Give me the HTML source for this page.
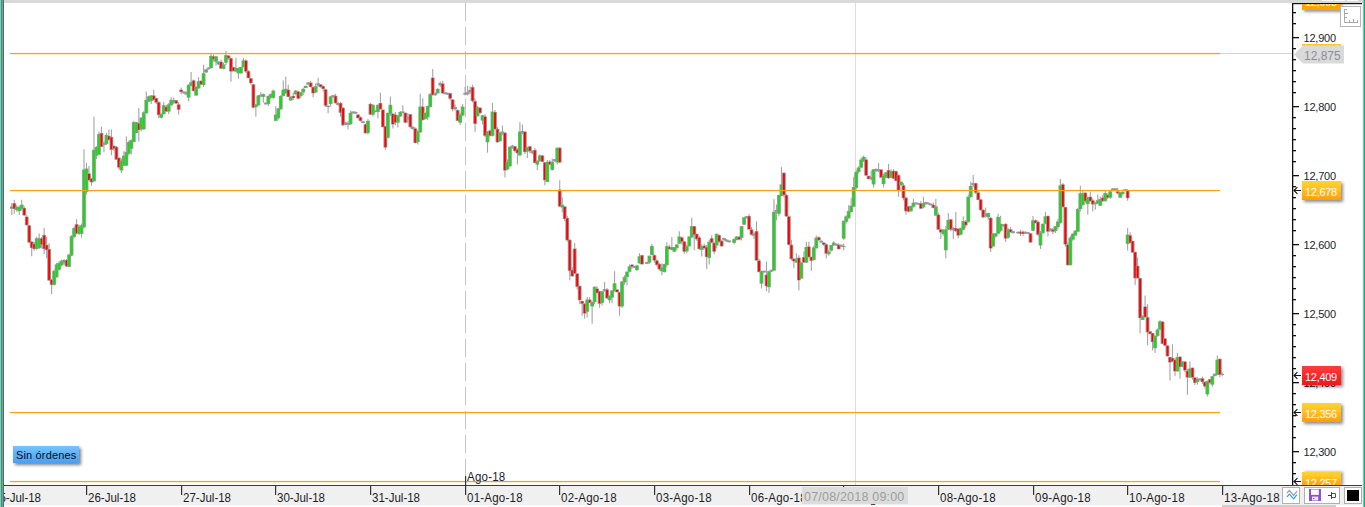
<!DOCTYPE html>
<html><head><meta charset="utf-8"><title>Chart</title>
<style>
html,body{margin:0;padding:0;background:#fff;}
body{width:1365px;height:507px;position:relative;overflow:hidden;font-family:"Liberation Sans",sans-serif;}
.abs{position:absolute;}
#topbar{left:0;top:0;width:1365px;height:3px;background:#d9d9d9;}
#lb0{left:0;top:0;width:1px;height:507px;background:#b4b4b4;}
#lb1{left:1px;top:0;width:1px;height:507px;background:#10aa84;}
#lb1b{left:2px;top:0;width:1px;height:507px;background:#62ab98;}
#lb2{left:3px;top:0;width:1px;height:507px;background:#646464;}
#lb3{left:4px;top:3px;width:1px;height:504px;background:#e4e4e4;}
#rb0{left:1362px;top:3px;width:1px;height:504px;background:#ececec;}
#rb1{left:1363px;top:0;width:2px;height:507px;background:linear-gradient(90deg,#7cc8b4 0,#7cc8b4 50%,#10aa84 50%);}
#botbg{left:4px;top:486px;width:1358px;height:19px;background:#f0f0f0;}
#botline{left:4px;top:485px;width:1358px;height:1.3px;background:#3c3c3c;}
#botstrip{left:4px;top:505px;width:1358px;height:2px;background:#fbfbfb;}
#scroll{left:1222px;top:505px;width:114px;height:2px;background:#cdcdcd;}
svg{position:absolute;left:0;top:0;}
.pl{position:absolute;left:1303.5px;font-size:11px;line-height:13px;letter-spacing:-0.2px;color:#1c1c28;white-space:nowrap;}
.dl{position:absolute;top:491px;font-size:12px;line-height:14px;color:#1c1c28;white-space:nowrap;transform:scaleX(0.96);transform-origin:0 0;}
.dl.ago{letter-spacing:0.23px;}
.tag{position:absolute;left:1302px;width:39px;height:19px;box-sizing:border-box;color:#fff;font-size:11px;line-height:22px;letter-spacing:-0.3px;padding-left:3px;overflow:hidden;box-shadow:2px 2px 3px rgba(0,0,0,0.45);white-space:nowrap;}
.tag.o{background:linear-gradient(#ffd42e,#ffc020 45%,#ff9d0c);}
.tag.r{background:linear-gradient(#ff3c3c,#f01818);}
#sin{left:13px;top:446px;width:66px;height:17px;background:linear-gradient(#74c4ff,#4c9ff0);box-shadow:2px 2px 3px rgba(0,0,0,0.5);font-size:11px;line-height:19px;letter-spacing:0.15px;color:#0a0a1e;padding-left:3px;overflow:hidden;box-sizing:border-box;white-space:nowrap;}
#ago{left:467px;top:470px;font-size:12px;line-height:14px;letter-spacing:0.23px;color:#1c1c28;transform:scaleX(0.96);transform-origin:0 0;}
#tip{left:802px;top:487px;width:106px;height:17px;background:#dcdcdc;color:#9c9c9c;font-size:12.5px;line-height:21px;letter-spacing:0.2px;overflow:hidden;padding-left:2px;box-sizing:border-box;white-space:nowrap;}
.btn{position:absolute;top:487px;height:17px;background:#fff;border:1px solid #b0b0b0;box-sizing:border-box;}
#rul{left:1340px;top:6px;width:21px;height:21px;background:#fff;border:1px solid #b4b4b4;box-sizing:border-box;}
</style></head><body>
<div class="abs" id="topbar"></div>
<div class="abs" id="botbg"></div>
<div class="abs" id="botstrip"></div>
<div class="abs" id="scroll"></div>
<svg width="1365" height="507" viewBox="0 0 1365 507" shape-rendering="auto">
<rect x="465" y="3" width="1" height="18" fill="#c4c4c4"/><rect x="465" y="27" width="1" height="18" fill="#c4c4c4"/><rect x="465" y="51" width="1" height="18" fill="#c4c4c4"/><rect x="465" y="75" width="1" height="18" fill="#c4c4c4"/><rect x="465" y="99" width="1" height="18" fill="#c4c4c4"/><rect x="465" y="123" width="1" height="18" fill="#c4c4c4"/><rect x="465" y="147" width="1" height="18" fill="#c4c4c4"/><rect x="465" y="171" width="1" height="18" fill="#c4c4c4"/><rect x="465" y="195" width="1" height="18" fill="#c4c4c4"/><rect x="465" y="219" width="1" height="18" fill="#c4c4c4"/><rect x="465" y="243" width="1" height="18" fill="#c4c4c4"/><rect x="465" y="267" width="1" height="18" fill="#c4c4c4"/><rect x="465" y="291" width="1" height="18" fill="#c4c4c4"/><rect x="465" y="315" width="1" height="18" fill="#c4c4c4"/><rect x="465" y="339" width="1" height="18" fill="#c4c4c4"/><rect x="465" y="363" width="1" height="18" fill="#c4c4c4"/><rect x="465" y="387" width="1" height="18" fill="#c4c4c4"/><rect x="465" y="411" width="1" height="18" fill="#c4c4c4"/><rect x="465" y="435" width="1" height="18" fill="#c4c4c4"/><rect x="465" y="459" width="1" height="17" fill="#c4c4c4"/><rect x="855" y="3" width="1" height="483" fill="#dcdcdc"/><rect x="1220" y="53" width="72" height="1" fill="#d4d4d4"/><path d="M11.78 203.02V214.95M14.27 199.76V213.86M16.76 205.18V211.69M19.25 205.62V214.95M21.74 199.76V210.61M24.23 206.27V216.03M26.72 214.95V225.79M29.21 224.71V243.15M31.7 240.98V256.16M34.19 242.06V250.74M36.68 236.64V249.65M39.17 233.38V249M41.67 236.64V248.13M44.16 227.96V253.99M46.65 236.64V258.33M49.14 243.15V281.11M51.63 278.94V294.12M54.12 269.18V285.44M56.61 262.67V277.85M59.1 261.58V270.69M61.59 259.41V266.36M64.08 258.98V264.84M66.57 258.98V267.22M69.06 253.99V267.22M71.56 235.12V256.16M74.05 226.44V238.16M76.54 219.28V234.47M79.03 224.71V235.12M81.52 223.62V237.72M84.01 149.31V228.21M86.5 163.12V194.67M88.99 166.07V180.87M91.48 177.91V185.8M93.97 116.77V181.85M96.46 146.35V159.17M98.95 131.56V154.85M101.44 126.63V147.34M103.94 141.42V152.27M106.43 132.76V145.04M108.92 129.59V140.43M111.41 129.59V155.23M113.9 145.05V150.67M116.39 146.04V159.82M118.88 157.18V169.14M121.37 158.56V172.98M123.86 151.28V166.07M126.35 136.49V166.07M128.84 140.52V155.19M131.33 139.45V154.24M133.83 120.82V142.25M136.32 122.08V133.22M138.81 107.89V141.42M141.3 117.23V131.14M143.79 111.05V129.7M146.28 91.51V113.71M148.77 95.84V102.05M151.26 95.31V103.93M153.75 89.73V100.39M156.24 97.81V104.11M158.73 101.25V118.15M161.22 112.99V118.62M163.71 102.09V114.56M166.21 105.13V111.75M168.7 102.88V114.07M171.19 97.19V105.72M173.68 97.8V104.06M176.17 99.94V103.71M178.66 102.06V114.6M181.15 87.6V94.17M183.64 91.21V93.59M186.13 91.21V95.36M188.62 84.32V101.28M191.11 71.97V86.18M193.6 79.52V91.23M196.09 86.44V95.78M198.59 77.3V88.85M201.08 80.61V85.37M203.57 64.87V87.07M206.06 69.22V72.92M208.55 67.23V69.61M211.04 53.85V68.42M213.53 54.6V61.52M216.02 55.63V65.58M218.51 61.33V64.74M221 59.66V68.74M223.49 62.48V69.14M225.98 51.01V65.17M228.48 55.35V60.03M230.97 58.04V81.74M233.46 66.92V71.54M235.95 57.76V71.97M238.44 67.53V78.72M240.93 66.92V73.66M243.42 57.76V67.53M245.91 59.21V73.09M248.4 70.1V78.35M250.89 77.89V84.48M253.38 84.13V108.56M255.87 103.94V116.73M258.36 95V105.63M260.86 91.97V97.3M263.35 93.42V102.8M265.84 102.33V104.7M268.33 95.5V105.93M270.82 93.34V99.12M273.31 89.42V98.64M275.8 106.18V121.28M278.29 108.05V119.4M280.78 95.13V109.62M283.27 80.43V96.41M285.76 76.87V93.75M288.25 84.87V97.3M290.74 96.15V100.64M293.24 92.56V100.07M295.73 89.79V95.13M298.22 90.69V99.52M300.71 91.89V98.09M303.2 87.83V94.94M305.69 85.64V88.16M308.18 81.9V85.17M310.67 80.72V87.33M313.16 86.64V97.3M315.65 83.57V92.92M318.14 77.76V86.64M320.63 84.26V87.53M323.12 85.27V91.38M325.62 88.83V106.97M328.11 105.29V113.29M330.6 95.99V106.48M333.09 94.87V97.6M335.58 93.63V103.79M338.07 102.33V105.59M340.56 101.64V116.84M343.05 107.01V125.77M345.54 121.87V125.13M348.03 121.28V129.27M350.52 110.41V124.56M353.01 111.21V113.59M355.51 111.57V113.94M358 114.01V118.37M360.49 116.36V121.42M362.98 120.98V123.36M365.47 123.6V133.58M367.96 118.76V134.65M370.45 103.01V114.85M372.94 104.3V116.43M375.43 109.97V112.34M377.92 104.4V118.61M380.41 92.86V109.73M382.9 109.48V127.47M385.39 125.91V149.7M387.89 112.63V138.44M390.38 96.41V116.11M392.87 113.29V128.38M395.36 112.1V125.19M397.85 115.06V127.5M400.34 110.9V116.8M402.83 105.29V113.29M405.32 112.47V123.49M407.81 112.99V123.36M410.3 114V128.37M412.79 126.31V129.57M415.28 127.44V143.36M417.78 130.14V144.6M420.27 93.75V132.82M422.76 98.19V120.74M425.25 112.64V119.3M427.74 105.56V119.9M430.23 93.12V107.6M432.72 68.88V95.52M435.21 92.56V95.82M437.7 88.17V93.46M440.19 81.37V86.94M442.68 80.81V93.68M445.17 92.03V94.4M447.66 92.56V94.94M450.16 92.64V100.39M452.65 99.35V111.36M455.14 104.4V110.62M457.63 109.19V121.07M460.12 112.71V125.16M462.61 104.06V116.21M465.1 86.64V95.52M467.59 85.75V95.52M470.08 86.51V93.45M472.57 84.78V102.49M475.06 98.44V132.06M477.55 105.91V116.6M480.04 106.94V113.91M482.54 114.71V124.47M485.03 114.25V137.1M487.52 130.98V152.67M490.01 129.46V136.63M492.5 102.78V136.4M494.99 110.07V129.53M497.48 126.75V142.91M499.97 131.46V141.37M502.46 125.55V135.31M504.95 132.54V177.61M507.44 159.32V170.2M509.93 146.52V167.3M512.43 144.78V148.63M514.92 146.2V152.52M517.41 148.24V164.6M519.9 122.3V156.33M522.39 124.47V134.23M524.88 131.26V153.97M527.37 146.81V158.09M529.86 146.07V153.09M532.35 150.2V154.05M534.84 148.05V163.16M537.33 160.26V170.02M539.82 154.35V161.29M542.31 155.07V162.27M544.81 162V185.21M547.3 160.02V182.12M549.79 159.69V165.14M552.28 158.57V170.66M554.77 158.88V161.64M557.26 147.2V164.43M559.75 146.65V163.17M559.75 180.33V206.97M562.24 197.2V212.3M564.73 206.08V221.18M567.22 215.76V241.63M569.71 239.21V280.2M572.2 267.46V277.06M574.69 242.9V273.98M577.19 273.35V289.57M579.68 285.52V304.17M582.17 300.62V315.72M584.66 303.29V318.38M587.15 297.07V317.5M589.64 297.15V303.08M592.13 301.51V323.71M594.62 286.21V304.24M597.11 286.3V293.23M599.6 290.85V307.73M602.09 290.97V305.58M604.58 281.97V291.74M607.08 288.09V298.58M609.57 295.29V303.29M612.06 289.96V303.29M614.55 271.31V291.74M617.04 289.21V292.35M619.53 291.74V315.72M622.02 281.37V307.99M624.51 275.21V284.8M627 271.31V285.52M629.49 264.59V272.59M631.98 264.26V268.82M634.47 265.69V268.06M636.96 264.77V270.95M639.46 253.2V263.85M641.95 255.08V264.6M646.93 261.78V264.15M649.42 255.55V263.63M651.91 243.78V255.33M654.4 254.25V262.86M656.89 259.21V266.61M659.38 262.98V270.62M661.87 263.61V275.16M664.36 263.83V272.4M666.85 242.3V267.26M669.34 244.75V249.35M671.84 236.97V250.29M674.33 247.02V251.81M676.82 244.12V250.24M679.31 231.29V244.08M681.8 236.46V244.57M684.29 240.87V253.66M686.78 244.74V253.23M689.27 236.19V246.5M691.76 217.79V237.86M694.25 225.96V250.29M696.74 233.69V240.63M699.23 235.69V249.93M701.73 244.26V256.51M704.22 243.72V248.87M706.71 245.04V268.94M709.2 239.96V264.5M711.69 235.2V243.19M714.18 242.59V254.23M716.67 233.68V248.16M719.16 234.82V242.65M721.65 239.66V246.56M724.14 237.56V240.82M726.63 239.34V241.71M729.12 240.22V242.6M734.11 238.35V244.36M736.6 236.03V240.24M739.09 235.77V240.27M741.58 226.07V240.56M744.07 216.89V225.3M746.56 215.71V218.62M749.05 213.9V229.72M751.54 227.09V235.39M754.03 232.53V238.75M756.52 221.34V260.72M759.01 258.49V272.43M761.5 270.72V288.48M763.99 270.42V272.8M766.49 261.48V291.15M768.98 270.72V292.92M771.47 269.53V271.91M773.96 199.08V271.01M776.45 204.4V220.39M778.94 194.66V216.18M781.43 167.1V196.41M783.92 172.28V197.36M786.41 193.74V217.01M788.9 215.34V245.27M791.39 239.87V260.43M793.88 258.52V268.29M796.38 253.19V262.96M798.87 255.37V290.49M801.36 262.23V278.74M803.85 251.41V262.96M806.34 241.64V262.96M808.83 241.64V257.85M811.32 256.74V270.95M813.81 245.46V260.62M816.3 235.43V248.55M818.79 236.18V240.61M821.28 240.45V242.83M823.77 242.25V245.88M826.26 243.52V258.52M828.76 250.3V255.7M831.25 244.95V251.52M833.74 240.99V246.01M836.23 243.47V245.85M838.72 243.25V249.35M841.21 244.54V246.92M843.7 243.42V250.52M843.7 220.39V239.93M846.19 215.34V223.44M848.68 205.29V218.95M851.17 198.19V212.4M853.66 176.87V207.07M856.15 169.68V189.77M858.64 166.35V173.7M861.14 157.87V167.99M863.63 155.56V161.78M866.12 157.34V175.99M868.61 175.72V179.26M871.1 170.66V180.43M873.59 169.13V187.53M876.08 168.14V171.99M878.57 163.02V172.13M881.06 169.25V177.9M883.55 173.62V187.41M886.04 171.89V177.88M888.53 164.1V178.63M891.03 169.32V177.74M893.52 169.31V178.92M896.01 170.57V181.42M898.5 174.3V196.64M900.99 181.43V185.81M903.48 183.01V200.54M905.97 196.42V214.64M908.46 205.72V212.4M910.95 205.72V211.83M913.44 198.81V207.48M915.93 202.19V204.53M918.42 202.85V204.96M920.91 200.88V209.31M923.41 196.64V208.13M925.9 201.76V204.53M928.39 202.41V204.53M930.88 203.5V205.61M933.37 202.78V208.13M935.86 198.81V216.16M938.35 212.79V229.98M940.84 228.52V238.94M943.33 229.11V235.82M945.82 225.92V258.46M948.31 212.91V230.26M950.8 218.86V231.22M953.29 227.01V238.94M955.79 211.82V232M958.28 228.57V238.16M960.77 227.87V235.14M963.26 216.16V230.26M965.75 219.9V227.47M968.24 194.44V222.18M970.73 181.45V197.72M973.22 174.95V186.88M975.71 182.74V194.1M978.2 190.4V200.1M980.69 198.91V210.63M983.18 209.28V218.21M985.68 207.54V217.41M988.17 212.83V219.69M990.66 217.1V251.92M993.15 233.02V246.61M995.64 233.08V237.34M998.13 213.46V234.17M1000.62 215.67V231.99M1003.11 224.01V226.58M1005.6 223.32V242.06M1008.09 227.96V238.98M1010.58 227.27V232.59M1013.07 230.91V233.49M1018.06 231.5V233.68M1020.55 229.81V235.94M1023.04 230.62V235.7M1025.53 231.5V233.68M1028.02 231.9V234.08M1030.51 233.17V242.72M1033 216.03V231.21M1035.49 219.58V223.34M1037.98 220.61V235.82M1040.47 230.89V248.96M1042.96 223.61V233.76M1045.45 212.08V224.31M1047.94 215.43V236.14M1050.44 227.95V231.51M1052.93 227.9V234.36M1055.42 226.06V232.96M1057.91 219.06V229.2M1060.4 178.94V223.68M1062.89 182.89V207.54M1065.38 206.93V246.65M1067.87 242.14V265.58M1070.36 235.84V265.35M1072.85 233.13V240.64M1075.34 229.95V235.78M1077.83 207.76V231.86M1080.33 185.85V211.53M1082.82 190.55V205.52M1085.31 192.27V203.31M1087.8 196.7V214.45M1090.29 191.87V201.64M1092.78 198.76V211.41M1095.27 201.64V209.64M1097.76 194.54V203.77M1100.25 196.79V206.14M1102.74 195.2V201.71M1105.23 190.1V201.35M1107.72 193.42V198.99M1110.21 190.01V198.67M1112.71 188.02V191.29M1115.2 188.02V190.4M1117.69 187.79V194.47M1120.18 192.12V197.82M1122.67 190.53V195.13M1125.16 188.91V191.29M1127.65 189.21V200.75M1127.65 227.93V250.49M1130.14 232.19V243.38M1132.63 240.57V252.98M1135.12 251.74V284.89M1137.61 257.41V278.69M1140.1 277.77V333.62M1142.59 315.25V320.04M1145.09 295.5V317.66M1147.58 304.36V345.14M1150.07 330.98V334.22M1152.56 332.73V350.46M1155.05 335.39V353.12M1157.54 328.61V336.8M1160.03 320.32V330.07M1162.52 321.24V344.35M1165.01 338.24V346.35M1167.5 345.06V356.84M1169.99 356.67V380.6M1172.48 344.26V361.99M1174.98 358.61V376.17M1177.47 353.12V371.74M1179.96 356.13V378.83M1182.45 361.36V367.35M1184.94 361.16V372.43M1187.43 369.02V394.79M1189.92 361.45V377.94M1192.41 367.4V379.73M1194.9 377.06V385.04M1197.39 377.13V384.46M1199.88 378.18V380.55M1202.37 376.57V383.95M1204.86 381.71V388.47M1207.36 380.6V396.56M1209.85 379.01V383.85M1212.34 375.64V386.81M1214.83 373.21V376.47M1217.32 355.43V375.28M1219.81 358.44V377.06M1222.3 372.62V376.17" stroke="#a4a4a4" stroke-width="1.1" fill="none"/><g fill="#979797"><rect x="9.88" y="206.42" width="3.8" height="2.3"/><rect x="10.83" y="206.92" width="1.9" height="1.3" fill="#08e408"/><rect x="12.37" y="203.17" width="3.8" height="5.77"/><rect x="13.32" y="203.67" width="1.9" height="4.77" fill="#ff0000"/><rect x="14.86" y="206.85" width="3.8" height="3.17"/><rect x="15.81" y="207.35" width="1.9" height="2.17" fill="#08e408"/><rect x="17.35" y="206.85" width="3.8" height="4.25"/><rect x="18.3" y="207.35" width="1.9" height="3.25" fill="#08e408"/><rect x="19.84" y="204.68" width="3.8" height="4.25"/><rect x="20.79" y="205.18" width="1.9" height="3.25" fill="#08e408"/><rect x="22.33" y="207.94" width="3.8" height="7.51"/><rect x="23.28" y="208.44" width="1.9" height="6.51" fill="#ff0000"/><rect x="24.82" y="216.61" width="3.8" height="8.59"/><rect x="25.77" y="217.11" width="1.9" height="7.59" fill="#ff0000"/><rect x="27.31" y="225.29" width="3.8" height="17.27"/><rect x="28.26" y="225.79" width="1.9" height="16.27" fill="#ff0000"/><rect x="29.8" y="241.56" width="3.8" height="6.42"/><rect x="30.75" y="242.06" width="1.9" height="5.42" fill="#ff0000"/><rect x="32.29" y="243.73" width="3.8" height="5.34"/><rect x="33.24" y="244.23" width="1.9" height="4.34" fill="#ff0000"/><rect x="34.78" y="238.31" width="3.8" height="10.76"/><rect x="35.73" y="238.81" width="1.9" height="9.76" fill="#08e408"/><rect x="37.27" y="238.31" width="3.8" height="9.68"/><rect x="38.22" y="238.81" width="1.9" height="8.68" fill="#08e408"/><rect x="39.77" y="238.31" width="3.8" height="6.42"/><rect x="40.72" y="238.81" width="1.9" height="5.42" fill="#ff0000"/><rect x="42.26" y="235.05" width="3.8" height="14.02"/><rect x="43.21" y="235.55" width="1.9" height="13.02" fill="#ff0000"/><rect x="44.75" y="244.81" width="3.8" height="5.34"/><rect x="45.7" y="245.31" width="1.9" height="4.34" fill="#ff0000"/><rect x="47.24" y="249.15" width="3.8" height="31.37"/><rect x="48.19" y="249.65" width="1.9" height="30.37" fill="#ff0000"/><rect x="49.73" y="279.52" width="3.8" height="5.34"/><rect x="50.68" y="280.02" width="1.9" height="4.34" fill="#ff0000"/><rect x="52.22" y="270.84" width="3.8" height="14.02"/><rect x="53.17" y="271.34" width="1.9" height="13.02" fill="#08e408"/><rect x="54.71" y="264.34" width="3.8" height="12.93"/><rect x="55.66" y="264.84" width="1.9" height="11.93" fill="#08e408"/><rect x="57.2" y="262.82" width="3.8" height="6.86"/><rect x="58.15" y="263.32" width="1.9" height="5.86" fill="#08e408"/><rect x="59.69" y="260.65" width="3.8" height="4.69"/><rect x="60.64" y="261.15" width="1.9" height="3.69" fill="#08e408"/><rect x="62.18" y="260" width="3.8" height="3.17"/><rect x="63.13" y="260.5" width="1.9" height="2.17" fill="#08e408"/><rect x="64.67" y="260" width="3.8" height="6.42"/><rect x="65.62" y="260.5" width="1.9" height="5.42" fill="#ff0000"/><rect x="67.16" y="254.58" width="3.8" height="12.28"/><rect x="68.11" y="255.08" width="1.9" height="11.28" fill="#08e408"/><rect x="69.66" y="236.14" width="3.8" height="19.44"/><rect x="70.61" y="236.64" width="1.9" height="18.44" fill="#08e408"/><rect x="72.15" y="228.11" width="3.8" height="9.03"/><rect x="73.1" y="228.61" width="1.9" height="8.03" fill="#08e408"/><rect x="74.64" y="224.21" width="3.8" height="9.24"/><rect x="75.59" y="224.71" width="1.9" height="8.24" fill="#ff0000"/><rect x="77.13" y="226.38" width="3.8" height="7.51"/><rect x="78.08" y="226.88" width="1.9" height="6.51" fill="#08e408"/><rect x="79.62" y="225.29" width="3.8" height="8.59"/><rect x="80.57" y="225.79" width="1.9" height="7.59" fill="#08e408"/><rect x="82.11" y="169.52" width="3.8" height="57.8"/><rect x="83.06" y="170.02" width="1.9" height="56.8" fill="#08e408"/><rect x="84.6" y="168.53" width="3.8" height="23.68"/><rect x="85.55" y="169.03" width="1.9" height="22.68" fill="#08e408"/><rect x="87.09" y="173.46" width="3.8" height="6.92"/><rect x="88.04" y="173.96" width="1.9" height="5.92" fill="#ff0000"/><rect x="89.58" y="178.4" width="3.8" height="3.96"/><rect x="90.53" y="178.9" width="1.9" height="2.96" fill="#ff0000"/><rect x="92.07" y="149.8" width="3.8" height="31.57"/><rect x="93.02" y="150.3" width="1.9" height="30.57" fill="#08e408"/><rect x="94.56" y="146.84" width="3.8" height="8.89"/><rect x="95.51" y="147.34" width="1.9" height="7.89" fill="#08e408"/><rect x="97.05" y="134.02" width="3.8" height="20.72"/><rect x="98" y="134.52" width="1.9" height="19.72" fill="#08e408"/><rect x="99.54" y="133.03" width="3.8" height="13.82"/><rect x="100.49" y="133.53" width="1.9" height="12.82" fill="#ff0000"/><rect x="102.04" y="142.79" width="3.8" height="2.2"/><rect x="104.53" y="135" width="3.8" height="8.89"/><rect x="105.48" y="135.5" width="1.9" height="7.89" fill="#08e408"/><rect x="107.02" y="135.99" width="3.8" height="3.96"/><rect x="107.97" y="136.49" width="1.9" height="2.96" fill="#ff0000"/><rect x="109.51" y="136.98" width="3.8" height="12.83"/><rect x="110.46" y="137.48" width="1.9" height="11.83" fill="#ff0000"/><rect x="112" y="145.85" width="3.8" height="2.97"/><rect x="112.95" y="146.35" width="1.9" height="1.97" fill="#ff0000"/><rect x="114.49" y="146.84" width="3.8" height="12.83"/><rect x="115.44" y="147.34" width="1.9" height="11.83" fill="#ff0000"/><rect x="116.98" y="157.69" width="3.8" height="9.88"/><rect x="117.93" y="158.19" width="1.9" height="8.88" fill="#ff0000"/><rect x="119.47" y="160.64" width="3.8" height="9.88"/><rect x="120.42" y="161.14" width="1.9" height="8.88" fill="#08e408"/><rect x="121.96" y="155.71" width="3.8" height="9.88"/><rect x="122.91" y="156.21" width="1.9" height="8.88" fill="#08e408"/><rect x="124.45" y="151.77" width="3.8" height="13.82"/><rect x="125.4" y="152.27" width="1.9" height="12.82" fill="#08e408"/><rect x="126.94" y="141.91" width="3.8" height="11.85"/><rect x="127.89" y="142.41" width="1.9" height="10.85" fill="#08e408"/><rect x="129.43" y="139.93" width="3.8" height="8.89"/><rect x="130.38" y="140.43" width="1.9" height="7.89" fill="#08e408"/><rect x="131.93" y="122.18" width="3.8" height="19.74"/><rect x="132.88" y="122.68" width="1.9" height="18.74" fill="#08e408"/><rect x="134.42" y="122.18" width="3.8" height="10.86"/><rect x="135.37" y="122.68" width="1.9" height="9.86" fill="#08e408"/><rect x="136.91" y="123.17" width="3.8" height="6.92"/><rect x="137.86" y="123.67" width="1.9" height="5.92" fill="#ff0000"/><rect x="139.4" y="117.65" width="3.8" height="11.66"/><rect x="140.35" y="118.15" width="1.9" height="10.66" fill="#08e408"/><rect x="141.89" y="112.32" width="3.8" height="16.99"/><rect x="142.84" y="112.82" width="1.9" height="15.99" fill="#08e408"/><rect x="144.38" y="99.89" width="3.8" height="13.43"/><rect x="145.33" y="100.39" width="1.9" height="12.43" fill="#08e408"/><rect x="146.87" y="96.34" width="3.8" height="5.44"/><rect x="147.82" y="96.84" width="1.9" height="4.44" fill="#08e408"/><rect x="149.36" y="95.45" width="3.8" height="5.44"/><rect x="150.31" y="95.95" width="1.9" height="4.44" fill="#08e408"/><rect x="151.85" y="95.45" width="3.8" height="4.55"/><rect x="152.8" y="95.95" width="1.9" height="3.55" fill="#ff0000"/><rect x="154.34" y="98.11" width="3.8" height="4.55"/><rect x="155.29" y="98.61" width="1.9" height="3.55" fill="#ff0000"/><rect x="156.83" y="102.02" width="3.8" height="13.08"/><rect x="157.78" y="102.52" width="1.9" height="12.08" fill="#ff0000"/><rect x="159.32" y="114.1" width="3.8" height="3.66"/><rect x="160.27" y="114.6" width="1.9" height="2.66" fill="#08e408"/><rect x="161.81" y="105.22" width="3.8" height="8.99"/><rect x="162.76" y="105.72" width="1.9" height="7.99" fill="#08e408"/><rect x="164.31" y="106.64" width="3.8" height="4.91"/><rect x="165.26" y="107.14" width="1.9" height="3.91" fill="#ff0000"/><rect x="166.8" y="104.33" width="3.8" height="7.22"/><rect x="167.75" y="104.83" width="1.9" height="6.22" fill="#08e408"/><rect x="169.29" y="99.89" width="3.8" height="5.44"/><rect x="170.24" y="100.39" width="1.9" height="4.44" fill="#08e408"/><rect x="171.78" y="99.89" width="3.8" height="2.78"/><rect x="172.73" y="100.39" width="1.9" height="1.78" fill="#08e408"/><rect x="174.27" y="100.25" width="3.8" height="3.31"/><rect x="175.22" y="100.75" width="1.9" height="2.31" fill="#ff0000"/><rect x="176.76" y="104.33" width="3.8" height="5.44"/><rect x="177.71" y="104.83" width="1.9" height="4.44" fill="#ff0000"/><rect x="179.25" y="89.59" width="3.8" height="2.42"/><rect x="180.2" y="90.09" width="1.9" height="1.42" fill="#ff0000"/><rect x="181.74" y="91.51" width="3.8" height="1.78"/><rect x="184.23" y="92.19" width="3.8" height="2.2"/><rect x="186.72" y="84.79" width="3.8" height="12.9"/><rect x="187.67" y="85.29" width="1.9" height="11.9" fill="#08e408"/><rect x="189.21" y="82.13" width="3.8" height="3.66"/><rect x="190.16" y="82.63" width="1.9" height="2.66" fill="#08e408"/><rect x="191.7" y="80.35" width="3.8" height="10.77"/><rect x="192.65" y="80.85" width="1.9" height="9.77" fill="#ff0000"/><rect x="194.19" y="86.57" width="3.8" height="8.99"/><rect x="195.14" y="87.07" width="1.9" height="7.99" fill="#08e408"/><rect x="196.69" y="81.24" width="3.8" height="7.22"/><rect x="197.64" y="81.74" width="1.9" height="6.22" fill="#08e408"/><rect x="199.18" y="80.71" width="3.8" height="3.84"/><rect x="200.13" y="81.21" width="1.9" height="2.84" fill="#ff0000"/><rect x="201.67" y="73.25" width="3.8" height="11.66"/><rect x="202.62" y="73.75" width="1.9" height="10.66" fill="#08e408"/><rect x="204.16" y="69.34" width="3.8" height="3.13"/><rect x="205.11" y="69.84" width="1.9" height="2.13" fill="#08e408"/><rect x="206.65" y="67.53" width="3.8" height="1.78"/><rect x="209.14" y="55.84" width="3.8" height="12.19"/><rect x="210.09" y="56.34" width="1.9" height="11.19" fill="#08e408"/><rect x="211.63" y="56.37" width="3.8" height="2.78"/><rect x="212.58" y="56.87" width="1.9" height="1.78" fill="#ff0000"/><rect x="214.12" y="56.37" width="3.8" height="5.44"/><rect x="215.07" y="56.87" width="1.9" height="4.44" fill="#08e408"/><rect x="216.61" y="61.7" width="3.8" height="2.78"/><rect x="217.56" y="62.2" width="1.9" height="1.78" fill="#08e408"/><rect x="219.1" y="61.7" width="3.8" height="6.86"/><rect x="220.05" y="62.2" width="1.9" height="5.86" fill="#ff0000"/><rect x="221.59" y="64.37" width="3.8" height="4.55"/><rect x="222.54" y="64.87" width="1.9" height="3.55" fill="#08e408"/><rect x="224.08" y="55.13" width="3.8" height="7.57"/><rect x="225.03" y="55.63" width="1.9" height="6.57" fill="#08e408"/><rect x="226.58" y="55.49" width="3.8" height="2.78"/><rect x="227.53" y="55.99" width="1.9" height="1.78" fill="#ff0000"/><rect x="229.07" y="58.15" width="3.8" height="13.43"/><rect x="230.02" y="58.65" width="1.9" height="12.43" fill="#ff0000"/><rect x="231.56" y="67.03" width="3.8" height="4.02"/><rect x="232.51" y="67.53" width="1.9" height="3.02" fill="#ff0000"/><rect x="234.05" y="67.92" width="3.8" height="3.66"/><rect x="235" y="68.42" width="1.9" height="2.66" fill="#08e408"/><rect x="236.54" y="67.92" width="3.8" height="5.44"/><rect x="237.49" y="68.42" width="1.9" height="4.44" fill="#08e408"/><rect x="239.03" y="67.03" width="3.8" height="6.33"/><rect x="239.98" y="67.53" width="1.9" height="5.33" fill="#08e408"/><rect x="241.52" y="60.46" width="3.8" height="6.68"/><rect x="242.47" y="60.96" width="1.9" height="5.68" fill="#08e408"/><rect x="244.01" y="60.46" width="3.8" height="11.12"/><rect x="244.96" y="60.96" width="1.9" height="10.12" fill="#ff0000"/><rect x="246.5" y="71.12" width="3.8" height="7.04"/><rect x="247.45" y="71.62" width="1.9" height="6.04" fill="#ff0000"/><rect x="248.99" y="78.22" width="3.8" height="4.91"/><rect x="249.94" y="78.72" width="1.9" height="3.91" fill="#ff0000"/><rect x="251.48" y="84.26" width="3.8" height="23.38"/><rect x="252.43" y="84.76" width="1.9" height="22.38" fill="#ff0000"/><rect x="253.97" y="104.33" width="3.8" height="2.78"/><rect x="254.92" y="104.83" width="1.9" height="1.78" fill="#08e408"/><rect x="256.46" y="95.45" width="3.8" height="9.88"/><rect x="257.41" y="95.95" width="1.9" height="8.88" fill="#08e408"/><rect x="258.96" y="94.64" width="3.8" height="1.78"/><rect x="261.45" y="94.14" width="3.8" height="2.78"/><rect x="262.4" y="94.64" width="1.9" height="1.78" fill="#08e408"/><rect x="263.94" y="102.63" width="3.8" height="1.78"/><rect x="266.43" y="95.91" width="3.8" height="8.1"/><rect x="267.38" y="96.41" width="1.9" height="7.1" fill="#08e408"/><rect x="268.92" y="94.14" width="3.8" height="3.66"/><rect x="269.87" y="94.64" width="1.9" height="2.66" fill="#08e408"/><rect x="271.41" y="90.58" width="3.8" height="7.22"/><rect x="272.36" y="91.08" width="1.9" height="6.22" fill="#08e408"/><rect x="273.9" y="114.56" width="3.8" height="6.33"/><rect x="274.85" y="115.06" width="1.9" height="5.33" fill="#08e408"/><rect x="276.39" y="108.35" width="3.8" height="9.88"/><rect x="277.34" y="108.85" width="1.9" height="8.88" fill="#08e408"/><rect x="278.88" y="95.91" width="3.8" height="13.43"/><rect x="279.83" y="96.41" width="1.9" height="12.43" fill="#08e408"/><rect x="281.37" y="89.7" width="3.8" height="6.33"/><rect x="282.32" y="90.2" width="1.9" height="5.33" fill="#08e408"/><rect x="283.86" y="88.81" width="3.8" height="4.55"/><rect x="284.81" y="89.31" width="1.9" height="3.55" fill="#08e408"/><rect x="286.35" y="89.7" width="3.8" height="7.22"/><rect x="287.3" y="90.2" width="1.9" height="6.22" fill="#ff0000"/><rect x="288.84" y="96.8" width="3.8" height="3.66"/><rect x="289.79" y="97.3" width="1.9" height="2.66" fill="#08e408"/><rect x="291.34" y="95.91" width="3.8" height="2.24"/><rect x="292.29" y="96.41" width="1.9" height="1.24" fill="#ff0000"/><rect x="293.83" y="90.58" width="3.8" height="3.66"/><rect x="294.78" y="91.08" width="1.9" height="2.66" fill="#08e408"/><rect x="296.32" y="91.47" width="3.8" height="7.22"/><rect x="297.27" y="91.97" width="1.9" height="6.22" fill="#ff0000"/><rect x="298.81" y="92.36" width="3.8" height="3.66"/><rect x="299.76" y="92.86" width="1.9" height="2.66" fill="#08e408"/><rect x="301.3" y="88.81" width="3.8" height="3.66"/><rect x="302.25" y="89.31" width="1.9" height="2.66" fill="#08e408"/><rect x="303.79" y="85.79" width="3.8" height="2.24"/><rect x="304.74" y="86.29" width="1.9" height="1.24" fill="#08e408"/><rect x="306.28" y="82.43" width="3.8" height="2.2"/><rect x="308.77" y="82.59" width="3.8" height="4.55"/><rect x="309.72" y="83.09" width="1.9" height="3.55" fill="#ff0000"/><rect x="311.26" y="87.03" width="3.8" height="6.33"/><rect x="312.21" y="87.53" width="1.9" height="5.33" fill="#ff0000"/><rect x="313.75" y="86.14" width="3.8" height="6.33"/><rect x="314.7" y="86.64" width="1.9" height="5.33" fill="#08e408"/><rect x="316.24" y="83.32" width="3.8" height="2.2"/><rect x="318.73" y="84.37" width="3.8" height="2.78"/><rect x="319.68" y="84.87" width="1.9" height="1.78" fill="#ff0000"/><rect x="321.23" y="86.14" width="3.8" height="2.78"/><rect x="322.18" y="86.64" width="1.9" height="1.78" fill="#ff0000"/><rect x="323.72" y="89.34" width="3.8" height="16.45"/><rect x="324.67" y="89.84" width="1.9" height="15.45" fill="#ff0000"/><rect x="326.21" y="105.83" width="3.8" height="1.24"/><rect x="328.7" y="96.44" width="3.8" height="7.57"/><rect x="329.65" y="96.94" width="1.9" height="6.57" fill="#08e408"/><rect x="331.19" y="95.17" width="3.8" height="2.13"/><rect x="333.68" y="95.91" width="3.8" height="7.22"/><rect x="334.63" y="96.41" width="1.9" height="6.22" fill="#ff0000"/><rect x="336.17" y="102.86" width="3.8" height="2.2"/><rect x="338.66" y="103.02" width="3.8" height="9.88"/><rect x="339.61" y="103.52" width="1.9" height="8.88" fill="#ff0000"/><rect x="341.15" y="107.81" width="3.8" height="17.52"/><rect x="342.1" y="108.31" width="1.9" height="16.52" fill="#ff0000"/><rect x="343.64" y="122.4" width="3.8" height="2.2"/><rect x="346.13" y="123.06" width="3.8" height="1.78"/><rect x="348.62" y="112.79" width="3.8" height="11.66"/><rect x="349.57" y="113.29" width="1.9" height="10.66" fill="#08e408"/><rect x="351.11" y="111.51" width="3.8" height="1.78"/><rect x="353.61" y="111.87" width="3.8" height="1.78"/><rect x="356.1" y="114.56" width="3.8" height="3.66"/><rect x="357.05" y="115.06" width="1.9" height="2.66" fill="#ff0000"/><rect x="358.59" y="117.23" width="3.8" height="3.66"/><rect x="359.54" y="117.73" width="1.9" height="2.66" fill="#ff0000"/><rect x="361.08" y="121.28" width="3.8" height="1.78"/><rect x="363.57" y="124.33" width="3.8" height="8.99"/><rect x="364.52" y="124.83" width="1.9" height="7.99" fill="#ff0000"/><rect x="366.06" y="120.78" width="3.8" height="12.19"/><rect x="367.01" y="121.28" width="1.9" height="11.19" fill="#08e408"/><rect x="368.55" y="103.9" width="3.8" height="10.77"/><rect x="369.5" y="104.4" width="1.9" height="9.77" fill="#ff0000"/><rect x="371.04" y="104.79" width="3.8" height="9.88"/><rect x="371.99" y="105.29" width="1.9" height="8.88" fill="#08e408"/><rect x="373.53" y="110.27" width="3.8" height="1.78"/><rect x="376.02" y="104.79" width="3.8" height="7.22"/><rect x="376.97" y="105.29" width="1.9" height="6.22" fill="#08e408"/><rect x="378.51" y="103.02" width="3.8" height="6.33"/><rect x="379.46" y="103.52" width="1.9" height="5.33" fill="#ff0000"/><rect x="381" y="109.59" width="3.8" height="17.52"/><rect x="381.95" y="110.09" width="1.9" height="16.52" fill="#ff0000"/><rect x="383.49" y="126.11" width="3.8" height="21.43"/><rect x="384.44" y="126.61" width="1.9" height="20.43" fill="#ff0000"/><rect x="385.99" y="112.79" width="3.8" height="24.98"/><rect x="386.94" y="113.29" width="1.9" height="23.98" fill="#08e408"/><rect x="388.48" y="104.79" width="3.8" height="8.99"/><rect x="389.43" y="105.29" width="1.9" height="7.99" fill="#08e408"/><rect x="390.97" y="113.67" width="3.8" height="10.77"/><rect x="391.92" y="114.17" width="1.9" height="9.77" fill="#ff0000"/><rect x="393.46" y="114.56" width="3.8" height="8.1"/><rect x="394.41" y="115.06" width="1.9" height="7.1" fill="#ff0000"/><rect x="395.95" y="115.45" width="3.8" height="7.22"/><rect x="396.9" y="115.95" width="1.9" height="6.22" fill="#08e408"/><rect x="398.44" y="111.9" width="3.8" height="4.55"/><rect x="399.39" y="112.4" width="1.9" height="3.55" fill="#08e408"/><rect x="400.93" y="111.51" width="3.8" height="1.42"/><rect x="403.42" y="112.79" width="3.8" height="9.88"/><rect x="404.37" y="113.29" width="1.9" height="8.88" fill="#ff0000"/><rect x="405.91" y="117.07" width="3.8" height="2.2"/><rect x="408.4" y="114.21" width="3.8" height="12.9"/><rect x="409.35" y="114.71" width="1.9" height="11.9" fill="#ff0000"/><rect x="410.89" y="126.84" width="3.8" height="2.2"/><rect x="413.38" y="128.42" width="3.8" height="14.68"/><rect x="414.33" y="128.92" width="1.9" height="13.68" fill="#ff0000"/><rect x="415.88" y="131.44" width="3.8" height="10.77"/><rect x="416.83" y="131.94" width="1.9" height="9.77" fill="#08e408"/><rect x="418.37" y="106.57" width="3.8" height="25.87"/><rect x="419.32" y="107.07" width="1.9" height="24.87" fill="#08e408"/><rect x="420.86" y="106.57" width="3.8" height="13.43"/><rect x="421.81" y="107.07" width="1.9" height="12.43" fill="#ff0000"/><rect x="423.35" y="112.79" width="3.8" height="6.33"/><rect x="424.3" y="113.29" width="1.9" height="5.33" fill="#08e408"/><rect x="425.84" y="106.04" width="3.8" height="11.3"/><rect x="426.79" y="106.54" width="1.9" height="10.3" fill="#08e408"/><rect x="428.33" y="94.14" width="3.8" height="12.9"/><rect x="429.28" y="94.64" width="1.9" height="11.9" fill="#08e408"/><rect x="430.82" y="77.62" width="3.8" height="17.52"/><rect x="431.77" y="78.12" width="1.9" height="16.52" fill="#ff0000"/><rect x="433.31" y="93.09" width="3.8" height="2.2"/><rect x="435.8" y="88.81" width="3.8" height="4.55"/><rect x="436.75" y="89.31" width="1.9" height="3.55" fill="#08e408"/><rect x="438.29" y="83.06" width="3.8" height="2.2"/><rect x="440.78" y="83.48" width="3.8" height="9.88"/><rect x="441.73" y="83.98" width="1.9" height="8.88" fill="#ff0000"/><rect x="443.27" y="92.33" width="3.8" height="1.78"/><rect x="445.76" y="92.86" width="3.8" height="1.78"/><rect x="448.26" y="93.25" width="3.8" height="5.44"/><rect x="449.21" y="93.75" width="1.9" height="4.44" fill="#ff0000"/><rect x="450.75" y="99.46" width="3.8" height="9.88"/><rect x="451.7" y="99.96" width="1.9" height="8.88" fill="#ff0000"/><rect x="453.24" y="107.03" width="3.8" height="2.2"/><rect x="455.73" y="110.12" width="3.8" height="10.77"/><rect x="456.68" y="110.62" width="1.9" height="9.77" fill="#ff0000"/><rect x="458.22" y="114.56" width="3.8" height="8.1"/><rect x="459.17" y="115.06" width="1.9" height="7.1" fill="#08e408"/><rect x="460.71" y="106.57" width="3.8" height="8.99"/><rect x="461.66" y="107.07" width="1.9" height="7.99" fill="#08e408"/><rect x="463.2" y="92.86" width="3.8" height="1.78"/><rect x="465.69" y="92.2" width="3.8" height="2.2"/><rect x="468.18" y="90.07" width="3.8" height="2.2"/><rect x="470.67" y="87.09" width="3.8" height="14.02"/><rect x="471.62" y="87.59" width="1.9" height="13.02" fill="#ff0000"/><rect x="473.16" y="101.19" width="3.8" height="22.69"/><rect x="474.11" y="101.69" width="1.9" height="21.69" fill="#ff0000"/><rect x="475.65" y="107.27" width="3.8" height="9.03"/><rect x="476.6" y="107.77" width="1.9" height="8.03" fill="#08e408"/><rect x="478.14" y="107.7" width="3.8" height="5.34"/><rect x="479.09" y="108.2" width="1.9" height="4.34" fill="#ff0000"/><rect x="480.64" y="115.29" width="3.8" height="5.34"/><rect x="481.59" y="115.79" width="1.9" height="4.34" fill="#08e408"/><rect x="483.13" y="116.38" width="3.8" height="19.44"/><rect x="484.08" y="116.88" width="1.9" height="18.44" fill="#ff0000"/><rect x="485.62" y="131.56" width="3.8" height="10.76"/><rect x="486.57" y="132.06" width="1.9" height="9.76" fill="#08e408"/><rect x="488.11" y="130.48" width="3.8" height="5.34"/><rect x="489.06" y="130.98" width="1.9" height="4.34" fill="#ff0000"/><rect x="490.6" y="111.6" width="3.8" height="24.21"/><rect x="491.55" y="112.1" width="1.9" height="23.21" fill="#08e408"/><rect x="493.09" y="112.04" width="3.8" height="17.27"/><rect x="494.04" y="112.54" width="1.9" height="16.27" fill="#ff0000"/><rect x="495.58" y="128.96" width="3.8" height="13.36"/><rect x="496.53" y="129.46" width="1.9" height="12.36" fill="#ff0000"/><rect x="498.07" y="132.65" width="3.8" height="8.59"/><rect x="499.02" y="133.15" width="1.9" height="7.59" fill="#08e408"/><rect x="500.56" y="131.5" width="3.8" height="2.2"/><rect x="503.05" y="132.65" width="3.8" height="37.88"/><rect x="504" y="133.15" width="1.9" height="36.88" fill="#ff0000"/><rect x="505.54" y="161.93" width="3.8" height="7.51"/><rect x="506.49" y="162.43" width="1.9" height="6.51" fill="#08e408"/><rect x="508.03" y="146.75" width="3.8" height="19.44"/><rect x="508.98" y="147.25" width="1.9" height="18.44" fill="#08e408"/><rect x="510.53" y="145.6" width="3.8" height="2.2"/><rect x="513.02" y="146.31" width="3.8" height="4.69"/><rect x="513.97" y="146.81" width="1.9" height="3.69" fill="#ff0000"/><rect x="515.51" y="149.35" width="3.8" height="3.82"/><rect x="516.46" y="149.85" width="1.9" height="2.82" fill="#ff0000"/><rect x="518" y="131.56" width="3.8" height="23.78"/><rect x="518.95" y="132.06" width="1.9" height="22.78" fill="#08e408"/><rect x="520.49" y="130.98" width="3.8" height="2.17"/><rect x="522.98" y="131.56" width="3.8" height="20.52"/><rect x="523.93" y="132.06" width="1.9" height="19.52" fill="#ff0000"/><rect x="525.47" y="147.18" width="3.8" height="4.47"/><rect x="526.42" y="147.68" width="1.9" height="3.47" fill="#08e408"/><rect x="527.96" y="146.31" width="3.8" height="4.69"/><rect x="528.91" y="146.81" width="1.9" height="3.69" fill="#ff0000"/><rect x="530.45" y="151.03" width="3.8" height="2.2"/><rect x="532.94" y="150" width="3.8" height="12.93"/><rect x="533.89" y="150.5" width="1.9" height="11.93" fill="#ff0000"/><rect x="535.43" y="160.84" width="3.8" height="3.82"/><rect x="536.38" y="161.34" width="1.9" height="2.82" fill="#08e408"/><rect x="537.92" y="155.42" width="3.8" height="5.77"/><rect x="538.87" y="155.92" width="1.9" height="4.77" fill="#08e408"/><rect x="540.41" y="155.42" width="3.8" height="6.42"/><rect x="541.36" y="155.92" width="1.9" height="5.42" fill="#ff0000"/><rect x="542.91" y="162.36" width="3.8" height="17.92"/><rect x="543.86" y="162.86" width="1.9" height="16.92" fill="#ff0000"/><rect x="545.4" y="161.93" width="3.8" height="20.09"/><rect x="546.35" y="162.43" width="1.9" height="19.09" fill="#08e408"/><rect x="547.89" y="161.5" width="3.8" height="3.17"/><rect x="548.84" y="162" width="1.9" height="2.17" fill="#ff0000"/><rect x="550.38" y="161.93" width="3.8" height="7.94"/><rect x="551.33" y="162.43" width="1.9" height="6.94" fill="#08e408"/><rect x="552.87" y="159.18" width="3.8" height="2.17"/><rect x="555.36" y="147.83" width="3.8" height="14.67"/><rect x="556.31" y="148.33" width="1.9" height="13.67" fill="#08e408"/><rect x="557.85" y="147.83" width="3.8" height="14.67"/><rect x="558.8" y="148.33" width="1.9" height="13.67" fill="#ff0000"/><rect x="557.85" y="189.6" width="3.8" height="16.99"/><rect x="558.8" y="190.1" width="1.9" height="15.99" fill="#ff0000"/><rect x="560.34" y="204.7" width="3.8" height="2.78"/><rect x="561.29" y="205.2" width="1.9" height="1.78" fill="#08e408"/><rect x="562.83" y="206.47" width="3.8" height="12.55"/><rect x="563.78" y="206.97" width="1.9" height="11.55" fill="#ff0000"/><rect x="565.32" y="218.02" width="3.8" height="22.31"/><rect x="566.27" y="218.52" width="1.9" height="21.31" fill="#ff0000"/><rect x="567.81" y="239.73" width="3.8" height="31.2"/><rect x="568.76" y="240.23" width="1.9" height="30.2" fill="#ff0000"/><rect x="570.3" y="269.93" width="3.8" height="6.33"/><rect x="571.25" y="270.43" width="1.9" height="5.33" fill="#ff0000"/><rect x="572.79" y="248.61" width="3.8" height="24.98"/><rect x="573.74" y="249.11" width="1.9" height="23.98" fill="#ff0000"/><rect x="575.29" y="273.48" width="3.8" height="13.43"/><rect x="576.24" y="273.98" width="1.9" height="12.43" fill="#ff0000"/><rect x="577.78" y="285.91" width="3.8" height="14.32"/><rect x="578.73" y="286.41" width="1.9" height="13.32" fill="#ff0000"/><rect x="580.27" y="301.01" width="3.8" height="2.78"/><rect x="581.22" y="301.51" width="1.9" height="1.78" fill="#ff0000"/><rect x="582.76" y="303.67" width="3.8" height="9.88"/><rect x="583.71" y="304.17" width="1.9" height="8.88" fill="#ff0000"/><rect x="585.25" y="299.59" width="3.8" height="12.19"/><rect x="586.2" y="300.09" width="1.9" height="11.19" fill="#08e408"/><rect x="587.74" y="299.59" width="3.8" height="3.31"/><rect x="588.69" y="300.09" width="1.9" height="2.31" fill="#ff0000"/><rect x="590.23" y="301.9" width="3.8" height="4.55"/><rect x="591.18" y="302.4" width="1.9" height="3.55" fill="#08e408"/><rect x="592.72" y="286.8" width="3.8" height="15.21"/><rect x="593.67" y="287.3" width="1.9" height="14.21" fill="#08e408"/><rect x="595.21" y="288.58" width="3.8" height="4.55"/><rect x="596.16" y="289.08" width="1.9" height="3.55" fill="#ff0000"/><rect x="597.7" y="291.24" width="3.8" height="12.55"/><rect x="598.65" y="291.74" width="1.9" height="11.55" fill="#ff0000"/><rect x="600.19" y="291.24" width="3.8" height="11.66"/><rect x="601.14" y="291.74" width="1.9" height="10.66" fill="#08e408"/><rect x="602.68" y="289.08" width="3.8" height="1.78"/><rect x="605.18" y="289.46" width="3.8" height="8.99"/><rect x="606.12" y="289.96" width="1.9" height="7.99" fill="#ff0000"/><rect x="607.67" y="295.68" width="3.8" height="4.55"/><rect x="608.62" y="296.18" width="1.9" height="3.55" fill="#08e408"/><rect x="610.16" y="290.35" width="3.8" height="7.22"/><rect x="611.11" y="290.85" width="1.9" height="6.22" fill="#08e408"/><rect x="612.65" y="283.25" width="3.8" height="8.1"/><rect x="613.6" y="283.75" width="1.9" height="7.1" fill="#08e408"/><rect x="615.14" y="289.46" width="3.8" height="2.78"/><rect x="616.09" y="289.96" width="1.9" height="1.78" fill="#ff0000"/><rect x="617.63" y="292.13" width="3.8" height="14.32"/><rect x="618.58" y="292.63" width="1.9" height="13.32" fill="#ff0000"/><rect x="620.12" y="281.47" width="3.8" height="24.98"/><rect x="621.07" y="281.97" width="1.9" height="23.98" fill="#08e408"/><rect x="622.61" y="277.03" width="3.8" height="5.44"/><rect x="623.56" y="277.53" width="1.9" height="4.44" fill="#08e408"/><rect x="625.1" y="271.7" width="3.8" height="5.44"/><rect x="626.05" y="272.2" width="1.9" height="4.44" fill="#08e408"/><rect x="627.59" y="266.37" width="3.8" height="5.44"/><rect x="628.54" y="266.87" width="1.9" height="4.44" fill="#08e408"/><rect x="630.08" y="264.6" width="3.8" height="2.24"/><rect x="631.03" y="265.1" width="1.9" height="1.24" fill="#ff0000"/><rect x="632.57" y="265.99" width="3.8" height="1.78"/><rect x="635.06" y="265.49" width="3.8" height="4.55"/><rect x="636.01" y="265.99" width="1.9" height="3.55" fill="#08e408"/><rect x="637.56" y="256.25" width="3.8" height="7.04"/><rect x="638.51" y="256.75" width="1.9" height="6.04" fill="#08e408"/><rect x="640.05" y="255.18" width="3.8" height="9.17"/><rect x="641" y="255.68" width="1.9" height="8.17" fill="#ff0000"/><rect x="645.03" y="262.08" width="3.8" height="1.78"/><rect x="647.52" y="255.72" width="3.8" height="6.86"/><rect x="648.47" y="256.22" width="1.9" height="5.86" fill="#08e408"/><rect x="650.01" y="245.95" width="3.8" height="8.99"/><rect x="650.96" y="246.45" width="1.9" height="7.99" fill="#08e408"/><rect x="652.5" y="255.12" width="3.8" height="5.44"/><rect x="653.45" y="255.62" width="1.9" height="4.44" fill="#ff0000"/><rect x="654.99" y="260.45" width="3.8" height="4.55"/><rect x="655.94" y="260.95" width="1.9" height="3.55" fill="#ff0000"/><rect x="657.48" y="264" width="3.8" height="5.44"/><rect x="658.43" y="264.5" width="1.9" height="4.44" fill="#ff0000"/><rect x="659.97" y="267.56" width="3.8" height="3.66"/><rect x="660.92" y="268.06" width="1.9" height="2.66" fill="#08e408"/><rect x="662.46" y="264" width="3.8" height="8.1"/><rect x="663.41" y="264.5" width="1.9" height="7.1" fill="#08e408"/><rect x="664.95" y="246.24" width="3.8" height="18.76"/><rect x="665.9" y="246.74" width="1.9" height="17.76" fill="#08e408"/><rect x="667.44" y="246.77" width="3.8" height="2.42"/><rect x="668.39" y="247.27" width="1.9" height="1.42" fill="#ff0000"/><rect x="669.94" y="247.13" width="3.8" height="2.78"/><rect x="670.89" y="247.63" width="1.9" height="1.78" fill="#08e408"/><rect x="672.43" y="247.13" width="3.8" height="4.55"/><rect x="673.38" y="247.63" width="1.9" height="3.55" fill="#08e408"/><rect x="674.92" y="244.46" width="3.8" height="3.66"/><rect x="675.87" y="244.96" width="1.9" height="2.66" fill="#08e408"/><rect x="677.41" y="236.47" width="3.8" height="7.22"/><rect x="678.36" y="236.97" width="1.9" height="6.22" fill="#08e408"/><rect x="679.9" y="237.36" width="3.8" height="4.55"/><rect x="680.85" y="237.86" width="1.9" height="3.55" fill="#ff0000"/><rect x="682.39" y="241.44" width="3.8" height="10.24"/><rect x="683.34" y="241.94" width="1.9" height="9.24" fill="#ff0000"/><rect x="684.88" y="246.24" width="3.8" height="5.09"/><rect x="685.83" y="246.74" width="1.9" height="4.09" fill="#08e408"/><rect x="687.37" y="236.47" width="3.8" height="9.88"/><rect x="688.32" y="236.97" width="1.9" height="8.88" fill="#08e408"/><rect x="689.86" y="226.17" width="3.8" height="11.3"/><rect x="690.81" y="226.67" width="1.9" height="10.3" fill="#08e408"/><rect x="692.35" y="226.17" width="3.8" height="8.64"/><rect x="693.3" y="226.67" width="1.9" height="7.64" fill="#ff0000"/><rect x="694.84" y="233.81" width="3.8" height="5.44"/><rect x="695.79" y="234.31" width="1.9" height="4.44" fill="#ff0000"/><rect x="697.33" y="237.36" width="3.8" height="11.66"/><rect x="698.28" y="237.86" width="1.9" height="10.66" fill="#ff0000"/><rect x="699.83" y="246.24" width="3.8" height="3.66"/><rect x="700.78" y="246.74" width="1.9" height="2.66" fill="#08e408"/><rect x="702.32" y="245.71" width="3.8" height="2.78"/><rect x="703.27" y="246.21" width="1.9" height="1.78" fill="#ff0000"/><rect x="704.81" y="247.13" width="3.8" height="9.88"/><rect x="705.76" y="247.63" width="1.9" height="8.88" fill="#ff0000"/><rect x="707.3" y="241.8" width="3.8" height="16.1"/><rect x="708.25" y="242.3" width="1.9" height="15.1" fill="#08e408"/><rect x="709.79" y="238.25" width="3.8" height="4.55"/><rect x="710.74" y="238.75" width="1.9" height="3.55" fill="#ff0000"/><rect x="712.28" y="242.69" width="3.8" height="8.99"/><rect x="713.23" y="243.19" width="1.9" height="7.99" fill="#ff0000"/><rect x="714.77" y="233.81" width="3.8" height="11.66"/><rect x="715.72" y="234.31" width="1.9" height="10.66" fill="#08e408"/><rect x="717.26" y="235.05" width="3.8" height="6.86"/><rect x="718.21" y="235.55" width="1.9" height="5.86" fill="#ff0000"/><rect x="719.75" y="240.91" width="3.8" height="5.44"/><rect x="720.7" y="241.41" width="1.9" height="4.44" fill="#ff0000"/><rect x="722.24" y="238.09" width="3.8" height="2.2"/><rect x="724.73" y="239.64" width="3.8" height="1.78"/><rect x="727.22" y="240.52" width="3.8" height="1.78"/><rect x="732.21" y="239.14" width="3.8" height="3.66"/><rect x="733.16" y="239.64" width="1.9" height="2.66" fill="#08e408"/><rect x="734.7" y="236.47" width="3.8" height="3.66"/><rect x="735.65" y="236.97" width="1.9" height="2.66" fill="#08e408"/><rect x="737.19" y="236.83" width="3.8" height="2.78"/><rect x="738.14" y="237.33" width="1.9" height="1.78" fill="#ff0000"/><rect x="739.68" y="226.17" width="3.8" height="11.66"/><rect x="740.63" y="226.67" width="1.9" height="10.66" fill="#08e408"/><rect x="742.17" y="217.29" width="3.8" height="7.39"/><rect x="743.12" y="217.79" width="1.9" height="6.39" fill="#08e408"/><rect x="744.66" y="216.07" width="3.8" height="2.2"/><rect x="747.15" y="216.05" width="3.8" height="13.43"/><rect x="748.1" y="216.55" width="1.9" height="12.43" fill="#ff0000"/><rect x="749.64" y="229.37" width="3.8" height="5.44"/><rect x="750.59" y="229.87" width="1.9" height="4.44" fill="#ff0000"/><rect x="752.13" y="233.65" width="3.8" height="2.2"/><rect x="754.62" y="231.14" width="3.8" height="29.42"/><rect x="755.57" y="231.64" width="1.9" height="28.42" fill="#ff0000"/><rect x="757.11" y="260.45" width="3.8" height="11.66"/><rect x="758.06" y="260.95" width="1.9" height="10.66" fill="#ff0000"/><rect x="759.6" y="271.11" width="3.8" height="12.55"/><rect x="760.55" y="271.61" width="1.9" height="11.55" fill="#08e408"/><rect x="762.09" y="270.72" width="3.8" height="1.78"/><rect x="764.59" y="274.66" width="3.8" height="11.66"/><rect x="765.54" y="275.16" width="1.9" height="10.66" fill="#ff0000"/><rect x="767.08" y="271.11" width="3.8" height="16.1"/><rect x="768.03" y="271.61" width="1.9" height="15.1" fill="#08e408"/><rect x="769.57" y="269.83" width="3.8" height="1.78"/><rect x="772.06" y="211.9" width="3.8" height="58.73"/><rect x="773.01" y="212.4" width="1.9" height="57.73" fill="#08e408"/><rect x="774.55" y="209.97" width="3.8" height="2.2"/><rect x="777.04" y="195.02" width="3.8" height="18.76"/><rect x="777.99" y="195.52" width="1.9" height="17.76" fill="#08e408"/><rect x="779.53" y="184.37" width="3.8" height="11.66"/><rect x="780.48" y="184.87" width="1.9" height="10.66" fill="#08e408"/><rect x="782.02" y="172.82" width="3.8" height="22.31"/><rect x="782.97" y="173.32" width="1.9" height="21.31" fill="#ff0000"/><rect x="784.51" y="195.02" width="3.8" height="21.43"/><rect x="785.46" y="195.52" width="1.9" height="20.43" fill="#ff0000"/><rect x="787" y="216.34" width="3.8" height="28.53"/><rect x="787.95" y="216.84" width="1.9" height="27.53" fill="#ff0000"/><rect x="789.49" y="244.7" width="3.8" height="14.32"/><rect x="790.44" y="245.2" width="1.9" height="13.32" fill="#ff0000"/><rect x="791.98" y="258.55" width="3.8" height="2.78"/><rect x="792.93" y="259.05" width="1.9" height="1.78" fill="#ff0000"/><rect x="794.48" y="258.9" width="3.8" height="3.66"/><rect x="795.43" y="259.4" width="1.9" height="2.66" fill="#08e408"/><rect x="796.97" y="257.66" width="3.8" height="22.67"/><rect x="797.92" y="258.16" width="1.9" height="21.67" fill="#ff0000"/><rect x="799.46" y="262.46" width="3.8" height="16.1"/><rect x="800.41" y="262.96" width="1.9" height="15.1" fill="#08e408"/><rect x="801.95" y="257.13" width="3.8" height="5.44"/><rect x="802.9" y="257.63" width="1.9" height="4.44" fill="#ff0000"/><rect x="804.44" y="247" width="3.8" height="15.56"/><rect x="805.39" y="247.5" width="1.9" height="14.56" fill="#08e408"/><rect x="806.93" y="246.47" width="3.8" height="10.77"/><rect x="807.88" y="246.97" width="1.9" height="9.77" fill="#ff0000"/><rect x="809.42" y="256.77" width="3.8" height="4.02"/><rect x="810.37" y="257.27" width="1.9" height="3.02" fill="#ff0000"/><rect x="811.91" y="247.36" width="3.8" height="12.55"/><rect x="812.86" y="247.86" width="1.9" height="11.55" fill="#08e408"/><rect x="814.4" y="237.59" width="3.8" height="10.77"/><rect x="815.35" y="238.09" width="1.9" height="9.77" fill="#08e408"/><rect x="816.89" y="237.24" width="3.8" height="3.13"/><rect x="817.84" y="237.74" width="1.9" height="2.13" fill="#ff0000"/><rect x="819.38" y="240.75" width="3.8" height="1.78"/><rect x="821.87" y="242.56" width="3.8" height="2.24"/><rect x="822.82" y="243.06" width="1.9" height="1.24" fill="#ff0000"/><rect x="824.36" y="244.34" width="3.8" height="9.35"/><rect x="825.31" y="244.84" width="1.9" height="8.35" fill="#ff0000"/><rect x="826.86" y="251.44" width="3.8" height="2.78"/><rect x="827.81" y="251.94" width="1.9" height="1.78" fill="#08e408"/><rect x="829.35" y="245.05" width="3.8" height="5.62"/><rect x="830.3" y="245.55" width="1.9" height="4.62" fill="#08e408"/><rect x="831.84" y="242.56" width="3.8" height="2.78"/><rect x="832.79" y="243.06" width="1.9" height="1.78" fill="#08e408"/><rect x="834.33" y="243.77" width="3.8" height="1.78"/><rect x="836.82" y="244.7" width="3.8" height="4.55"/><rect x="837.77" y="245.2" width="1.9" height="3.55" fill="#ff0000"/><rect x="839.31" y="244.84" width="3.8" height="1.78"/><rect x="841.8" y="246.03" width="3.8" height="1"/><rect x="841.8" y="220.78" width="3.8" height="17.87"/><rect x="842.75" y="221.28" width="1.9" height="16.87" fill="#08e408"/><rect x="844.29" y="216.34" width="3.8" height="5.44"/><rect x="845.24" y="216.84" width="1.9" height="4.44" fill="#08e408"/><rect x="846.78" y="211.01" width="3.8" height="7.22"/><rect x="847.73" y="211.51" width="1.9" height="6.22" fill="#08e408"/><rect x="849.27" y="205.68" width="3.8" height="6.33"/><rect x="850.22" y="206.18" width="1.9" height="5.33" fill="#08e408"/><rect x="851.76" y="187.03" width="3.8" height="19.65"/><rect x="852.71" y="187.53" width="1.9" height="18.65" fill="#08e408"/><rect x="854.25" y="171.93" width="3.8" height="16.1"/><rect x="855.2" y="172.43" width="1.9" height="15.1" fill="#08e408"/><rect x="856.74" y="167.49" width="3.8" height="4.55"/><rect x="857.69" y="167.99" width="1.9" height="3.55" fill="#08e408"/><rect x="859.24" y="159.5" width="3.8" height="8.1"/><rect x="860.19" y="160" width="1.9" height="7.1" fill="#08e408"/><rect x="861.73" y="156.84" width="3.8" height="4.55"/><rect x="862.68" y="157.34" width="1.9" height="3.55" fill="#08e408"/><rect x="864.22" y="159.5" width="3.8" height="16.1"/><rect x="865.17" y="160" width="1.9" height="15.1" fill="#ff0000"/><rect x="866.71" y="175.84" width="3.8" height="3.31"/><rect x="867.66" y="176.34" width="1.9" height="2.31" fill="#ff0000"/><rect x="869.2" y="177.11" width="3.8" height="2.2"/><rect x="871.69" y="169.27" width="3.8" height="15.21"/><rect x="872.64" y="169.77" width="1.9" height="14.21" fill="#08e408"/><rect x="874.18" y="168.97" width="3.8" height="2.2"/><rect x="876.67" y="169.09" width="3.8" height="2.17"/><rect x="879.16" y="169.46" width="3.8" height="8.16"/><rect x="880.11" y="169.96" width="1.9" height="7.16" fill="#ff0000"/><rect x="881.65" y="175.53" width="3.8" height="8.59"/><rect x="882.6" y="176.03" width="1.9" height="7.59" fill="#08e408"/><rect x="884.14" y="172.28" width="3.8" height="5.34"/><rect x="885.09" y="172.78" width="1.9" height="4.34" fill="#08e408"/><rect x="886.63" y="170.11" width="3.8" height="8.16"/><rect x="887.58" y="170.61" width="1.9" height="7.16" fill="#ff0000"/><rect x="889.13" y="171.19" width="3.8" height="6.42"/><rect x="890.08" y="171.69" width="1.9" height="5.42" fill="#08e408"/><rect x="891.62" y="170.76" width="3.8" height="7.94"/><rect x="892.57" y="171.26" width="1.9" height="6.94" fill="#ff0000"/><rect x="894.11" y="171.19" width="3.8" height="9.68"/><rect x="895.06" y="171.69" width="1.9" height="8.68" fill="#ff0000"/><rect x="896.6" y="175.1" width="3.8" height="15.53"/><rect x="897.55" y="175.6" width="1.9" height="14.53" fill="#ff0000"/><rect x="899.09" y="181.6" width="3.8" height="3.6"/><rect x="900.04" y="182.1" width="1.9" height="2.6" fill="#08e408"/><rect x="901.58" y="185.29" width="3.8" height="12.93"/><rect x="902.53" y="185.79" width="1.9" height="11.93" fill="#ff0000"/><rect x="904.07" y="197.66" width="3.8" height="13.58"/><rect x="905.02" y="198.16" width="1.9" height="12.58" fill="#ff0000"/><rect x="906.56" y="206.33" width="3.8" height="5.34"/><rect x="907.51" y="206.83" width="1.9" height="4.34" fill="#ff0000"/><rect x="909.05" y="205.9" width="3.8" height="5.34"/><rect x="910" y="206.4" width="1.9" height="4.34" fill="#08e408"/><rect x="911.54" y="202.65" width="3.8" height="4.25"/><rect x="912.49" y="203.15" width="1.9" height="3.25" fill="#08e408"/><rect x="914.03" y="202.49" width="3.8" height="1.74"/><rect x="916.52" y="203.15" width="3.8" height="1.52"/><rect x="919.01" y="203.3" width="3.8" height="5.34"/><rect x="919.96" y="203.8" width="1.9" height="4.34" fill="#ff0000"/><rect x="921.51" y="203.3" width="3.8" height="4.04"/><rect x="922.46" y="203.8" width="1.9" height="3.04" fill="#08e408"/><rect x="924" y="202.06" width="3.8" height="2.17"/><rect x="926.49" y="202.71" width="3.8" height="1.52"/><rect x="928.98" y="203.8" width="3.8" height="1.52"/><rect x="931.47" y="204.81" width="3.8" height="3.17"/><rect x="932.42" y="205.31" width="1.9" height="2.17" fill="#ff0000"/><rect x="933.96" y="206.33" width="3.8" height="9.24"/><rect x="934.91" y="206.83" width="1.9" height="8.24" fill="#08e408"/><rect x="936.45" y="214.58" width="3.8" height="15.1"/><rect x="937.4" y="215.08" width="1.9" height="14.1" fill="#ff0000"/><rect x="938.94" y="229.33" width="3.8" height="3.17"/><rect x="939.89" y="229.83" width="1.9" height="2.17" fill="#ff0000"/><rect x="941.43" y="229.76" width="3.8" height="4.25"/><rect x="942.38" y="230.26" width="1.9" height="3.25" fill="#08e408"/><rect x="943.92" y="229.33" width="3.8" height="20.96"/><rect x="944.87" y="229.83" width="1.9" height="19.96" fill="#08e408"/><rect x="946.41" y="220" width="3.8" height="9.68"/><rect x="947.36" y="220.5" width="1.9" height="8.68" fill="#08e408"/><rect x="948.9" y="219.35" width="3.8" height="10.33"/><rect x="949.85" y="219.85" width="1.9" height="9.33" fill="#ff0000"/><rect x="951.39" y="228.09" width="3.8" height="2.17"/><rect x="953.89" y="228.02" width="3.8" height="3.17"/><rect x="954.84" y="228.52" width="1.9" height="2.17" fill="#ff0000"/><rect x="956.38" y="228.68" width="3.8" height="6.86"/><rect x="957.33" y="229.18" width="1.9" height="5.86" fill="#ff0000"/><rect x="958.87" y="228.02" width="3.8" height="6.64"/><rect x="959.82" y="228.52" width="1.9" height="5.64" fill="#08e408"/><rect x="961.36" y="221.08" width="3.8" height="8.59"/><rect x="962.31" y="221.58" width="1.9" height="7.59" fill="#08e408"/><rect x="963.85" y="221.52" width="3.8" height="3.82"/><rect x="964.8" y="222.02" width="1.9" height="2.82" fill="#ff0000"/><rect x="966.34" y="196.79" width="3.8" height="25.3"/><rect x="967.29" y="197.29" width="1.9" height="24.3" fill="#08e408"/><rect x="968.83" y="185.94" width="3.8" height="11.2"/><rect x="969.78" y="186.44" width="1.9" height="10.2" fill="#08e408"/><rect x="971.32" y="183.06" width="3.8" height="2.2"/><rect x="973.81" y="183.12" width="3.8" height="9.68"/><rect x="974.76" y="183.62" width="1.9" height="8.68" fill="#ff0000"/><rect x="976.3" y="192.45" width="3.8" height="7.51"/><rect x="977.25" y="192.95" width="1.9" height="6.51" fill="#ff0000"/><rect x="978.79" y="199.39" width="3.8" height="10.76"/><rect x="979.74" y="199.89" width="1.9" height="9.76" fill="#ff0000"/><rect x="981.28" y="209.8" width="3.8" height="7.51"/><rect x="982.23" y="210.3" width="1.9" height="6.51" fill="#ff0000"/><rect x="983.78" y="213.84" width="3.8" height="2.2"/><rect x="986.27" y="212.96" width="3.8" height="4.35"/><rect x="987.22" y="213.46" width="1.9" height="3.35" fill="#08e408"/><rect x="988.76" y="217.89" width="3.8" height="30.59"/><rect x="989.71" y="218.39" width="1.9" height="29.59" fill="#ff0000"/><rect x="991.25" y="233.67" width="3.8" height="12.83"/><rect x="992.2" y="234.17" width="1.9" height="11.83" fill="#08e408"/><rect x="993.74" y="233.28" width="3.8" height="3.37"/><rect x="994.69" y="233.78" width="1.9" height="2.37" fill="#08e408"/><rect x="996.23" y="216.91" width="3.8" height="16.78"/><rect x="997.18" y="217.41" width="1.9" height="15.78" fill="#08e408"/><rect x="998.72" y="223.81" width="3.8" height="6.92"/><rect x="999.67" y="224.31" width="1.9" height="5.92" fill="#08e408"/><rect x="1001.21" y="224.31" width="3.8" height="1.97"/><rect x="1003.7" y="223.81" width="3.8" height="14.81"/><rect x="1004.65" y="224.31" width="1.9" height="13.81" fill="#ff0000"/><rect x="1006.19" y="229.33" width="3.8" height="8.3"/><rect x="1007.14" y="229.83" width="1.9" height="7.3" fill="#08e408"/><rect x="1008.68" y="229.33" width="3.8" height="2.97"/><rect x="1009.63" y="229.83" width="1.9" height="1.97" fill="#ff0000"/><rect x="1011.17" y="231.21" width="3.8" height="1.97"/><rect x="1016.16" y="231.8" width="3.8" height="1.58"/><rect x="1018.65" y="231.7" width="3.8" height="2.18"/><rect x="1019.6" y="232.2" width="1.9" height="1.18" fill="#ff0000"/><rect x="1021.14" y="231.7" width="3.8" height="2.18"/><rect x="1022.09" y="232.2" width="1.9" height="1.18" fill="#ff0000"/><rect x="1023.63" y="231.8" width="3.8" height="1.58"/><rect x="1026.12" y="232.2" width="3.8" height="1.58"/><rect x="1028.61" y="233.28" width="3.8" height="9.28"/><rect x="1029.56" y="233.78" width="1.9" height="8.28" fill="#ff0000"/><rect x="1031.1" y="220.26" width="3.8" height="10.47"/><rect x="1032.05" y="220.76" width="1.9" height="9.47" fill="#08e408"/><rect x="1033.59" y="220.26" width="3.8" height="2.97"/><rect x="1034.54" y="220.76" width="1.9" height="1.97" fill="#ff0000"/><rect x="1036.08" y="221.84" width="3.8" height="12.83"/><rect x="1037.03" y="222.34" width="1.9" height="11.83" fill="#ff0000"/><rect x="1038.57" y="232.69" width="3.8" height="12.83"/><rect x="1039.52" y="233.19" width="1.9" height="11.83" fill="#08e408"/><rect x="1041.06" y="223.81" width="3.8" height="9.28"/><rect x="1042.01" y="224.31" width="1.9" height="8.28" fill="#08e408"/><rect x="1043.55" y="216.31" width="3.8" height="7.51"/><rect x="1044.5" y="216.81" width="1.9" height="6.51" fill="#08e408"/><rect x="1046.04" y="215.92" width="3.8" height="15.79"/><rect x="1046.99" y="216.42" width="1.9" height="14.79" fill="#ff0000"/><rect x="1048.54" y="228.63" width="3.8" height="2.2"/><rect x="1051.03" y="229.33" width="3.8" height="2.38"/><rect x="1051.98" y="229.83" width="1.9" height="1.38" fill="#ff0000"/><rect x="1053.52" y="226.18" width="3.8" height="4.94"/><rect x="1054.47" y="226.68" width="1.9" height="3.94" fill="#08e408"/><rect x="1056.01" y="221.44" width="3.8" height="5.73"/><rect x="1056.96" y="221.94" width="1.9" height="4.73" fill="#08e408"/><rect x="1058.5" y="185.35" width="3.8" height="37.49"/><rect x="1059.45" y="185.85" width="1.9" height="36.49" fill="#08e408"/><rect x="1060.99" y="184.36" width="3.8" height="22.7"/><rect x="1061.94" y="184.86" width="1.9" height="21.7" fill="#ff0000"/><rect x="1063.48" y="207.04" width="3.8" height="37.49"/><rect x="1064.43" y="207.54" width="1.9" height="36.49" fill="#ff0000"/><rect x="1065.97" y="244.52" width="3.8" height="20.72"/><rect x="1066.92" y="245.02" width="1.9" height="19.72" fill="#ff0000"/><rect x="1068.46" y="237.62" width="3.8" height="27.63"/><rect x="1069.41" y="238.12" width="1.9" height="26.63" fill="#08e408"/><rect x="1070.95" y="233.67" width="3.8" height="5.93"/><rect x="1071.9" y="234.17" width="1.9" height="4.93" fill="#08e408"/><rect x="1073.44" y="230.71" width="3.8" height="4.94"/><rect x="1074.39" y="231.21" width="1.9" height="3.94" fill="#08e408"/><rect x="1075.93" y="209.02" width="3.8" height="22.7"/><rect x="1076.88" y="209.52" width="1.9" height="21.7" fill="#08e408"/><rect x="1078.43" y="193.24" width="3.8" height="15.79"/><rect x="1079.38" y="193.74" width="1.9" height="14.79" fill="#08e408"/><rect x="1080.92" y="193.24" width="3.8" height="11.85"/><rect x="1081.87" y="193.74" width="1.9" height="10.85" fill="#08e408"/><rect x="1083.41" y="192.65" width="3.8" height="8.5"/><rect x="1084.36" y="193.15" width="1.9" height="7.5" fill="#ff0000"/><rect x="1085.9" y="197.18" width="3.8" height="6.92"/><rect x="1086.85" y="197.68" width="1.9" height="5.92" fill="#08e408"/><rect x="1088.39" y="196.7" width="3.8" height="4.55"/><rect x="1089.34" y="197.2" width="1.9" height="3.55" fill="#ff0000"/><rect x="1090.88" y="200.25" width="3.8" height="4.2"/><rect x="1091.83" y="200.75" width="1.9" height="3.2" fill="#ff0000"/><rect x="1093.37" y="202.53" width="3.8" height="1.78"/><rect x="1095.86" y="200.25" width="3.8" height="3.31"/><rect x="1096.81" y="200.75" width="1.9" height="2.31" fill="#08e408"/><rect x="1098.35" y="199.01" width="3.8" height="6.68"/><rect x="1099.3" y="199.51" width="1.9" height="5.68" fill="#08e408"/><rect x="1100.84" y="197.59" width="3.8" height="3.66"/><rect x="1101.79" y="198.09" width="1.9" height="2.66" fill="#ff0000"/><rect x="1103.33" y="193.15" width="3.8" height="8.1"/><rect x="1104.28" y="193.65" width="1.9" height="7.1" fill="#08e408"/><rect x="1105.82" y="194.93" width="3.8" height="2.78"/><rect x="1106.77" y="195.43" width="1.9" height="1.78" fill="#ff0000"/><rect x="1108.31" y="191.37" width="3.8" height="6.33"/><rect x="1109.26" y="191.87" width="1.9" height="5.33" fill="#08e408"/><rect x="1110.81" y="188.55" width="3.8" height="2.2"/><rect x="1113.3" y="188.32" width="3.8" height="1.78"/><rect x="1115.79" y="191.32" width="3.8" height="2"/><rect x="1116.74" y="191.82" width="1.9" height="1" fill="#ff0000"/><rect x="1118.28" y="192.26" width="3.8" height="5.44"/><rect x="1119.23" y="192.76" width="1.9" height="4.44" fill="#08e408"/><rect x="1120.77" y="191.91" width="3.8" height="2.24"/><rect x="1121.72" y="192.41" width="1.9" height="1.24" fill="#08e408"/><rect x="1123.26" y="189.21" width="3.8" height="1.78"/><rect x="1125.75" y="190.13" width="3.8" height="8.1"/><rect x="1126.7" y="190.63" width="1.9" height="7.1" fill="#ff0000"/><rect x="1125.75" y="234.54" width="3.8" height="9.35"/><rect x="1126.7" y="235.04" width="1.9" height="8.35" fill="#08e408"/><rect x="1128.24" y="235.25" width="3.8" height="7.75"/><rect x="1129.19" y="235.75" width="1.9" height="6.75" fill="#ff0000"/><rect x="1130.73" y="240.95" width="3.8" height="11.64"/><rect x="1131.68" y="241.45" width="1.9" height="10.64" fill="#ff0000"/><rect x="1133.22" y="251.95" width="3.8" height="26.35"/><rect x="1134.17" y="252.45" width="1.9" height="25.35" fill="#ff0000"/><rect x="1135.71" y="265.78" width="3.8" height="12.52"/><rect x="1136.66" y="266.28" width="1.9" height="11.52" fill="#ff0000"/><rect x="1138.2" y="278.15" width="3.8" height="40.01"/><rect x="1139.15" y="278.65" width="1.9" height="39.01" fill="#ff0000"/><rect x="1140.69" y="316.27" width="3.8" height="3.66"/><rect x="1141.64" y="316.77" width="1.9" height="2.66" fill="#08e408"/><rect x="1143.19" y="306.52" width="3.8" height="10.75"/><rect x="1144.14" y="307.02" width="1.9" height="9.75" fill="#ff0000"/><rect x="1145.68" y="317.16" width="3.8" height="15.18"/><rect x="1146.63" y="317.66" width="1.9" height="14.18" fill="#ff0000"/><rect x="1148.17" y="331.34" width="3.8" height="2.77"/><rect x="1149.12" y="331.84" width="1.9" height="1.77" fill="#ff0000"/><rect x="1150.66" y="333.12" width="3.8" height="8.98"/><rect x="1151.61" y="333.62" width="1.9" height="7.98" fill="#ff0000"/><rect x="1153.15" y="335.78" width="3.8" height="12.52"/><rect x="1154.1" y="336.28" width="1.9" height="11.52" fill="#08e408"/><rect x="1155.64" y="329.57" width="3.8" height="6.32"/><rect x="1156.59" y="330.07" width="1.9" height="5.32" fill="#08e408"/><rect x="1158.13" y="321.24" width="3.8" height="8.45"/><rect x="1159.08" y="321.74" width="1.9" height="7.45" fill="#08e408"/><rect x="1160.62" y="321.59" width="3.8" height="22.28"/><rect x="1161.57" y="322.09" width="1.9" height="21.28" fill="#ff0000"/><rect x="1163.11" y="338.44" width="3.8" height="7.21"/><rect x="1164.06" y="338.94" width="1.9" height="6.21" fill="#ff0000"/><rect x="1165.6" y="345.53" width="3.8" height="10.75"/><rect x="1166.55" y="346.03" width="1.9" height="9.75" fill="#ff0000"/><rect x="1168.09" y="357.05" width="3.8" height="5.43"/><rect x="1169.04" y="357.55" width="1.9" height="4.43" fill="#ff0000"/><rect x="1170.58" y="357.94" width="3.8" height="3.66"/><rect x="1171.53" y="358.44" width="1.9" height="2.66" fill="#ff0000"/><rect x="1173.08" y="359.71" width="3.8" height="11.64"/><rect x="1174.03" y="360.21" width="1.9" height="10.64" fill="#ff0000"/><rect x="1175.57" y="357.05" width="3.8" height="14.3"/><rect x="1176.52" y="357.55" width="1.9" height="13.3" fill="#08e408"/><rect x="1178.06" y="356.7" width="3.8" height="10.22"/><rect x="1179.01" y="357.2" width="1.9" height="9.22" fill="#ff0000"/><rect x="1180.55" y="361.49" width="3.8" height="5.43"/><rect x="1181.5" y="361.99" width="1.9" height="4.43" fill="#08e408"/><rect x="1183.04" y="361.49" width="3.8" height="8.98"/><rect x="1183.99" y="361.99" width="1.9" height="7.98" fill="#ff0000"/><rect x="1185.53" y="370.88" width="3.8" height="6.67"/><rect x="1186.48" y="371.38" width="1.9" height="5.67" fill="#ff0000"/><rect x="1188.02" y="368.58" width="3.8" height="8.98"/><rect x="1188.97" y="369.08" width="1.9" height="7.98" fill="#08e408"/><rect x="1190.51" y="367.69" width="3.8" height="9.87"/><rect x="1191.46" y="368.19" width="1.9" height="8.87" fill="#ff0000"/><rect x="1193" y="377.44" width="3.8" height="5.43"/><rect x="1193.95" y="377.94" width="1.9" height="4.43" fill="#ff0000"/><rect x="1195.49" y="379.22" width="3.8" height="2.77"/><rect x="1196.44" y="379.72" width="1.9" height="1.77" fill="#08e408"/><rect x="1197.98" y="378.48" width="3.8" height="1.77"/><rect x="1200.47" y="378.33" width="3.8" height="3.66"/><rect x="1201.42" y="378.83" width="1.9" height="2.66" fill="#ff0000"/><rect x="1202.96" y="381.88" width="3.8" height="4.55"/><rect x="1203.91" y="382.38" width="1.9" height="3.55" fill="#ff0000"/><rect x="1205.46" y="380.99" width="3.8" height="13.41"/><rect x="1206.41" y="381.49" width="1.9" height="12.41" fill="#08e408"/><rect x="1207.95" y="379.22" width="3.8" height="3.66"/><rect x="1208.9" y="379.72" width="1.9" height="2.66" fill="#ff0000"/><rect x="1210.44" y="376.2" width="3.8" height="8.45"/><rect x="1211.39" y="376.7" width="1.9" height="7.45" fill="#08e408"/><rect x="1212.93" y="373.74" width="3.8" height="2.2"/><rect x="1215.42" y="359.71" width="3.8" height="15.18"/><rect x="1216.37" y="360.21" width="1.9" height="14.18" fill="#08e408"/><rect x="1217.91" y="358.83" width="3.8" height="16.07"/><rect x="1218.86" y="359.33" width="1.9" height="15.07" fill="#ff0000"/><rect x="1220.4" y="373.87" width="3.8" height="1.06"/></g><rect x="10" y="52.9" width="1210" height="1.3" fill="#f5a21e"/><rect x="10" y="189.9" width="1210" height="1.3" fill="#f5a21e"/><rect x="10" y="411.9" width="1210" height="1.3" fill="#f5a21e"/><rect x="10" y="480.9" width="1210" height="1.3" fill="#f5a21e"/>
</svg>
<div class="abs" id="botline"></div>
<svg width="1365" height="507" viewBox="0 0 1365 507">
<rect x="-8" y="486" width="1.2" height="9" fill="#333"/><rect x="86" y="486" width="1.2" height="9" fill="#333"/><rect x="181" y="486" width="1.2" height="9" fill="#333"/><rect x="275" y="486" width="1.2" height="9" fill="#333"/><rect x="370" y="486" width="1.2" height="9" fill="#333"/><rect x="465" y="476" width="1.2" height="19" fill="#333"/><rect x="559" y="486" width="1.2" height="9" fill="#333"/><rect x="654" y="486" width="1.2" height="9" fill="#333"/><rect x="749" y="486" width="1.2" height="9" fill="#333"/><rect x="843" y="486" width="1.2" height="9" fill="#333"/><rect x="938" y="486" width="1.2" height="9" fill="#333"/><rect x="1033" y="486" width="1.2" height="9" fill="#333"/><rect x="1127" y="486" width="1.2" height="9" fill="#333"/><rect x="1222" y="486" width="1.2" height="9" fill="#333"/><rect x="1292" y="3" width="1.3" height="483" fill="#111"/><rect x="1292" y="3" width="70" height="1.2" fill="#111"/><rect x="1292" y="12" width="4" height="1.3" fill="#111"/><rect x="1292" y="23" width="4" height="1.3" fill="#111"/><rect x="1292" y="37" width="7" height="1.3" fill="#111"/><rect x="1292" y="48" width="4" height="1.3" fill="#111"/><rect x="1292" y="59" width="4" height="1.3" fill="#111"/><rect x="1292" y="70" width="4" height="1.3" fill="#111"/><rect x="1292" y="81" width="4" height="1.3" fill="#111"/><rect x="1292" y="92" width="4" height="1.3" fill="#111"/><rect x="1292" y="106" width="7" height="1.3" fill="#111"/><rect x="1292" y="117" width="4" height="1.3" fill="#111"/><rect x="1292" y="128" width="4" height="1.3" fill="#111"/><rect x="1292" y="139" width="4" height="1.3" fill="#111"/><rect x="1292" y="150" width="4" height="1.3" fill="#111"/><rect x="1292" y="161" width="4" height="1.3" fill="#111"/><rect x="1292" y="175" width="7" height="1.3" fill="#111"/><rect x="1292" y="186" width="4" height="1.3" fill="#111"/><rect x="1292" y="197" width="4" height="1.3" fill="#111"/><rect x="1292" y="208" width="4" height="1.3" fill="#111"/><rect x="1292" y="219" width="4" height="1.3" fill="#111"/><rect x="1292" y="230" width="4" height="1.3" fill="#111"/><rect x="1292" y="244" width="7" height="1.3" fill="#111"/><rect x="1292" y="255" width="4" height="1.3" fill="#111"/><rect x="1292" y="266" width="4" height="1.3" fill="#111"/><rect x="1292" y="277" width="4" height="1.3" fill="#111"/><rect x="1292" y="288" width="4" height="1.3" fill="#111"/><rect x="1292" y="299" width="4" height="1.3" fill="#111"/><rect x="1292" y="313" width="7" height="1.3" fill="#111"/><rect x="1292" y="324" width="4" height="1.3" fill="#111"/><rect x="1292" y="335" width="4" height="1.3" fill="#111"/><rect x="1292" y="346" width="4" height="1.3" fill="#111"/><rect x="1292" y="357" width="4" height="1.3" fill="#111"/><rect x="1292" y="368" width="4" height="1.3" fill="#111"/><rect x="1292" y="382" width="7" height="1.3" fill="#111"/><rect x="1292" y="393" width="4" height="1.3" fill="#111"/><rect x="1292" y="404" width="4" height="1.3" fill="#111"/><rect x="1292" y="415" width="4" height="1.3" fill="#111"/><rect x="1292" y="426" width="4" height="1.3" fill="#111"/><rect x="1292" y="437" width="4" height="1.3" fill="#111"/><rect x="1292" y="451" width="7" height="1.3" fill="#111"/><rect x="1292" y="462" width="4" height="1.3" fill="#111"/><rect x="1292" y="473" width="4" height="1.3" fill="#111"/>
<!-- arrows -->
<g stroke="#111" stroke-width="1.1" fill="none">
<path d="M1294 190.5H1301M1297.4 187.1L1294 190.5L1297.4 193.9"/>
<path d="M1294 375.5H1301M1297.4 372.1L1294 375.5L1297.4 378.9"/>
<path d="M1294 412.5H1301M1297.4 409.1L1294 412.5L1297.4 415.9"/>
<path d="M1294 481.5H1301M1297.4 478.1L1294 481.5L1297.4 484.9"/>
</g>
</svg>
<div class="pl" style="top:31.5px">12,900</div><div class="pl" style="top:100.5px">12,800</div><div class="pl" style="top:169.5px">12,700</div><div class="pl" style="top:238.5px">12,600</div><div class="pl" style="top:307.5px">12,500</div><div class="pl" style="top:376.5px">12,400</div><div class="pl" style="top:445.5px">12,300</div><div class="dl" style="left:-7.5px">25-Jul-18</div><div class="dl" style="left:88px">26-Jul-18</div><div class="dl" style="left:183px">27-Jul-18</div><div class="dl" style="left:277px">30-Jul-18</div><div class="dl" style="left:372px">31-Jul-18</div><div class="dl ago" style="left:467px">01-Ago-18</div><div class="dl ago" style="left:561px">02-Ago-18</div><div class="dl ago" style="left:656px">03-Ago-18</div><div class="dl ago" style="left:751px">06-Ago-18</div><div class="dl ago" style="left:845px">07-Ago-18</div><div class="dl ago" style="left:940px">08-Ago-18</div><div class="dl ago" style="left:1035px">09-Ago-18</div><div class="dl ago" style="left:1129px">10-Ago-18</div><div class="dl ago" style="left:1224px">13-Ago-18</div>
<div class="abs" id="ago">Ago-18</div>
<div class="abs" id="sin">Sin órdenes</div>
<div class="abs" id="tip">07/08/2018 09:00</div>
<div class="abs" style="left:871px;top:504px;width:4px;height:1px;background:#444;"></div>
<!-- price tags -->
<div class="abs" style="left:1302px;top:3px;width:39px;height:7px;background:#ffa300;box-shadow:2px 2px 3px rgba(0,0,0,0.4);overflow:hidden;"><div style="position:absolute;left:3px;top:-7px;font-size:11px;line-height:13px;letter-spacing:-0.3px;color:#fff;">12,993</div></div>
<div class="abs" style="left:1322px;top:0;width:11px;height:1px;background:#fdfdfd;"></div><div class="abs" style="left:1334px;top:0;width:11px;height:1px;background:#fdfdfd;"></div><div class="abs" style="left:1347px;top:0;width:11px;height:1px;background:#fdfdfd;"></div>
<div class="abs" style="left:1292px;top:3px;width:70px;height:1.2px;background:#111;"></div>
<div class="abs" style="left:1302px;top:44px;width:39px;height:2px;background:#ffc824;"></div>
<svg width="1365" height="507" viewBox="0 0 1365 507">
<path d="M1294 54.5L1303 45.5H1344V63.5H1303Z" fill="#dadada"/>
</svg>
<div class="abs" style="left:1304px;top:47.5px;font-size:12px;line-height:17px;color:#8a8e98;">12,875</div>
<div class="tag o" style="top:181px">12,678</div>
<div class="tag r" style="top:366px">12,409</div>
<div class="tag o" style="top:403px">12,356</div>
<div class="tag o" style="top:472px;height:14px;box-shadow:2px 0 3px rgba(0,0,0,0.4);overflow:hidden;">12,257</div>
<div class="abs" id="botline2" style="left:1292px;top:485px;width:70px;height:1.3px;background:#3c3c3c;"></div>
<div class="abs" style="left:1282px;top:486px;width:80px;height:19px;background:#f0f0f0;"></div>
<div class="btn" style="left:1282px;width:18px;"></div>
<div class="btn" style="left:1304px;width:36px;"></div>
<div class="btn" style="left:1344px;width:18px;"></div>
<div class="abs" style="left:1347px;top:490px;width:12px;height:11px;background:#000;"></div>
<div class="abs" id="rul"></div>
<svg width="1365" height="507" viewBox="0 0 1365 507">
<g stroke-width="1.2" fill="none"><path stroke="#9c9c9c" d="M1287 493L1289.4 490.3L1293.7 495.5L1296.9 491.2"/><path stroke="#2f9be0" d="M1287 496.8L1289.4 494.2L1293.7 498.8L1296.9 494.7"/></g>
<rect x="1309" y="489" width="12" height="12" fill="#8a55c8"/>
<rect x="1311" y="489.5" width="7.8" height="5.4" fill="#fff"/>
<rect x="1312" y="496.6" width="6.2" height="3.9" fill="#f1e8ff"/>
<rect x="1313" y="498" width="1.3" height="1.2" fill="#8a55c8"/>
<g stroke="#3a3a3a" stroke-width="1" fill="none"><path d="M1328 495.5H1331.5M1331.5 492.2V498.8"/><path stroke="#555" d="M1332 493.5H1335.5V497.5H1332"/></g>
<g stroke="#a8a8a8" stroke-width="1" fill="none"><path d="M1344.5 9V22.5H1358M1344.5 9.5H1347M1344.5 13.5H1348M1344.5 17.5H1347M1349.5 22.5V20M1353.5 22.5V19M1357.5 22.5V20"/></g>
</svg>
<div class="abs" id="lb0"></div><div class="abs" id="lb1"></div><div class="abs" id="lb1b"></div><div class="abs" id="lb2"></div>
<div class="abs" id="rb0"></div><div class="abs" id="rb1"></div>
</body></html>
